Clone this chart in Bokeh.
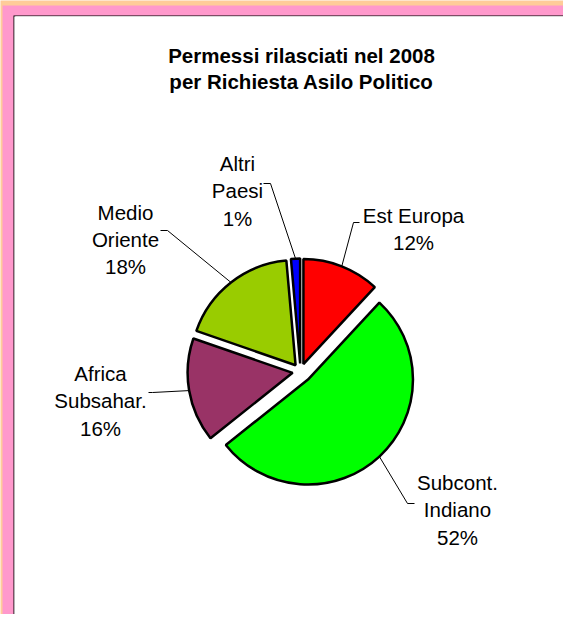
import numpy as np
from bokeh.plotting import figure
from bokeh.models import Range1d
from bokeh.embed import file_html
from bokeh.resources import INLINE
from bokeh.core.properties import value

# ---- data ----
categories = ["Est Europa", "Subcont. Indiano", "Africa Subsahar.", "Medio Oriente", "Altri Paesi"]
label_lines = [["Est Europa"], ["Subcont.", "Indiano"], ["Africa", "Subsahar."],
               ["Medio", "Oriente"], ["Altri", "Paesi"]]
shares = [11.9, 52.4, 16.0, 18.3, 1.4]
colors = ["#FF0000", "#00FF00", "#993366", "#99CC00", "#0000FF"]
title_lines = ["Permessi rilasciati nel 2008", "per Richiesta Asilo Politico"]

# ---- layout (reference pixel coords, y downward) ----
W, Hf = 563, 614
H = 630.0
def Y(yr):
    return H - yr

cx, cy = 300.0, 371.0
R = 105.0
explode = [8, 11, 8, 8, 8]
label_pos = [(413, 215), (457, 482), (100, 373), (125, 211.5), (237, 163)]
leader_start = [[(359, 222), (353, 222)], [(414, 503), (407, 503)], [(148, 392), (152, 392)],
                [(160, 230), (167, 230)], [(263, 183), (270, 183)]]
line_gap = 27.3
FONT = value("Liberation Sans")
FS = "20.5px"

p = figure(width=W, height=Hf, x_range=Range1d(0, W), y_range=Range1d(H - Hf, H),
           output_backend="svg", toolbar_location=None, x_axis_type=None, y_axis_type=None,
           min_border=0, min_border_left=0, min_border_top=0, min_border_right=0,
           min_border_bottom=0, border_fill_color="#FFCC99", background_fill_color="#FFCC99",
           outline_line_color=None)
p.grid.visible = False

# chart area: pink band, black edge, white plot area
p.quad(left=[2, 13, 14, 14], right=[W, W, W, W], top=[Y(5), Y(15), Y(16), Y(16)],
       bottom=[Y(Hf)] * 4, fill_color=["#FF99CC", "black", "#C8C8C8", "white"],
       line_color=None)
p.quad(left=[15], right=[W], top=[Y(16)], bottom=[Y(Hf)], fill_color="white", line_color=None)

total = sum(shares)
theta = 0.0
wx, wy, sa, ea = [], [], [], []
lxs, lys = [], []
for i, s in enumerate(shares):
    span = 360.0 * s / total
    t0, t1 = theta, theta + span
    tm = np.radians((t0 + t1) / 2)
    ox = cx + explode[i] * np.sin(tm)
    oy = Y(cy) + explode[i] * np.cos(tm)
    wx.append(ox); wy.append(oy)
    sa.append(np.radians(90 - t1)); ea.append(np.radians(90 - t0))
    ex = ox + R * np.sin(tm)
    ey = oy + R * np.cos(tm)
    pts = leader_start[i]
    lxs.append([pts[0][0], pts[1][0], ex])
    lys.append([Y(pts[0][1]), Y(pts[1][1]), ey])
    theta = t1

p.wedge(x=wx, y=wy, radius=R, start_angle=sa, end_angle=ea, direction="anticlock",
        fill_color=colors, line_color="black", line_width=2.5)
p.multi_line(xs=lxs, ys=lys, line_color="black", line_width=1)

tx, ty, tt = [], [], []
for i, lines in enumerate(label_lines):
    x0, y0 = label_pos[i]
    allines = lines + ["%d%%" % round(shares[i] / total * 100)]
    for k, t in enumerate(allines):
        tx.append(x0); ty.append(Y(y0 + k * line_gap)); tt.append(t)
p.text(x=tx, y=ty, text=tt, text_font=FONT, text_font_size=FS, text_align="center",
       text_baseline="alphabetic", text_color="black")

p.text(x=[301, 301], y=[Y(54.5), Y(81)], text=title_lines, text_font=FONT, text_font_size=FS,
       text_font_style="bold", text_align="center", text_baseline="alphabetic", text_color="black")

open("out.html", "w").write(file_html(p, INLINE))
